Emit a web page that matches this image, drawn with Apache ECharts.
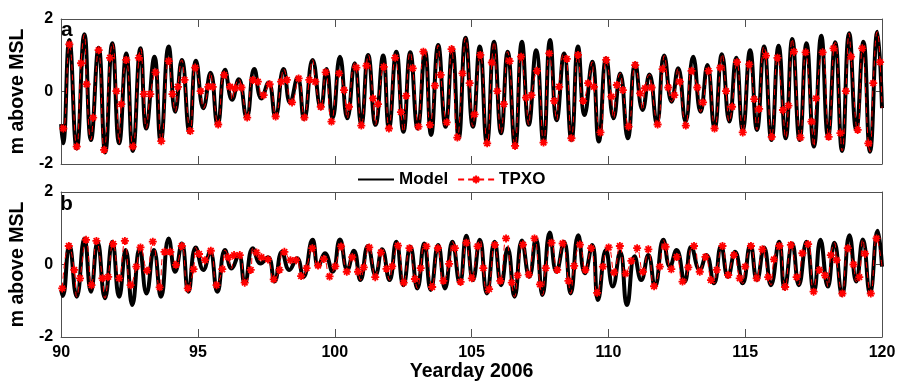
<!DOCTYPE html>
<html><head><meta charset="utf-8">
<script src="https://cdn.jsdelivr.net/npm/echarts@6/dist/echarts.min.js"></script>
<style>html,body{margin:0;padding:0;background:#fff}#c{width:900px;height:385px}</style>
</head><body><div id="c"></div>
<script>
// ---- data ----
const xTicks = [90, 95, 100, 105, 110, 115, 120];
const yTicks = [-2, 0, 2];
const seriesNames = ['Model', 'TPXO'];
const panelLabels = ['a', 'b'];

// Panel a: model high/low water extrema
const modelA_t = [90.00,90.07,90.30,90.57,90.85,91.09,91.37,91.61,91.87,92.12,92.38,92.62,92.90,93.11,93.41,93.64,93.93,94.17,94.41,94.69,94.93,95.20,95.46,95.72,95.99,96.25,96.49,96.78,97.06,97.32,97.58,97.83,98.13,98.37,98.64,98.88,99.19,99.49,99.70,99.92,100.19,100.46,100.73,100.97,101.22,101.49,101.77,101.98,102.25,102.51,102.76,103.03,103.30,103.52,103.78,104.05,104.30,104.53,104.78,105.05,105.30,105.56,105.82,106.08,106.32,106.59,106.84,107.09,107.36,107.63,107.87,108.11,108.38,108.65,108.89,109.13,109.41,109.65,109.92,110.19,110.43,110.71,110.98,111.25,111.50,111.77,112.04,112.31,112.55,112.82,113.10,113.37,113.62,113.88,114.15,114.42,114.67,114.91,115.18,115.43,115.69,115.96,116.22,116.48,116.72,116.99,117.24,117.51,117.78,118.03,118.29,118.54,118.80,119.06,119.32,119.56,119.83,120.00];
const modelA_v = [-0.90,-1.43,1.42,-1.57,1.58,-1.34,1.21,-1.68,1.33,-1.43,1.05,-1.64,1.19,-1.02,0.96,-1.38,1.24,-0.56,0.87,-1.12,0.85,-0.46,0.52,-0.92,0.60,-0.23,0.34,-0.71,0.62,-0.19,0.25,-0.69,0.62,-0.31,0.38,-0.76,0.87,-0.46,0.62,-0.74,0.96,-0.74,0.78,-0.92,1.01,-0.92,0.99,-1.02,1.10,-1.11,1.08,-1.02,1.10,-1.20,1.28,-0.97,1.19,-1.29,1.48,-0.97,1.24,-1.43,1.37,-1.15,1.10,-1.52,1.37,-0.92,1.14,-1.43,1.42,-0.79,1.05,-1.34,1.24,-0.65,0.82,-1.38,0.92,-0.74,0.50,-1.29,0.78,-0.51,0.47,-0.88,0.99,-0.28,0.64,-0.83,0.96,-0.56,0.73,-1.02,1.03,-0.83,0.93,-1.06,1.14,-1.06,1.24,-1.34,1.26,-1.29,1.45,-1.34,1.33,-1.52,1.54,-1.25,1.36,-1.64,1.61,-1.06,1.37,-1.66,1.65,-0.46];

// Panel a: TPXO marker samples
const tpxoA_t = [90.08,90.30,90.57,90.73,90.93,91.17,91.37,91.57,91.79,92.02,92.20,92.38,92.62,92.84,93.02,93.26,93.45,93.66,93.93,94.07,94.27,94.51,94.72,94.90,95.10,95.38,95.54,95.74,95.96,96.17,96.35,96.59,96.80,97.01,97.19,97.40,97.62,97.84,98.04,98.25,98.44,98.68,98.89,99.07,99.29,99.49,99.67,99.88,100.16,100.34,100.52,100.79,100.97,101.16,101.40,101.58,101.79,101.98,102.21,102.42,102.61,102.85,103.06,103.24,103.48,103.66,103.87,104.09,104.27,104.48,104.67,104.93,105.11,105.32,105.57,105.74,105.94,106.18,106.39,106.59,106.81,106.99,107.19,107.39,107.63,107.84,108.02,108.20,108.48,108.65,108.89,109.08,109.26,109.47,109.71,109.92,110.11,110.31,110.53,110.74,110.98,111.16,111.34,111.58,111.80,111.98,112.19,112.41,112.61,112.83,113.04,113.25,113.46,113.66,113.88,114.09,114.30,114.52,114.70,114.91,115.15,115.33,115.51,115.76,115.97,116.18,116.38,116.58,116.78,117.02,117.21,117.42,117.59,117.83,118.05,118.23,118.48,118.68,118.87,119.11,119.28,119.50,119.68,119.93];
const tpxoA_v = [-1.02,1.30,-1.52,0.78,0.20,-0.72,1.14,-1.61,0.93,0.01,-0.35,0.87,-1.52,0.93,-0.07,-0.07,0.53,-1.37,0.84,-0.07,0.13,0.32,-1.09,0.66,0.01,0.13,0.13,-0.91,0.46,0.13,0.09,0.11,-0.72,0.32,0.27,-0.10,0.20,-0.69,0.27,0.32,-0.30,0.36,-0.72,0.32,0.27,-0.42,0.53,-0.83,0.50,0.04,-0.42,0.66,-0.94,0.71,-0.19,-0.35,0.68,-1.02,0.93,-0.57,-0.12,0.64,-0.97,1.10,-0.92,0.16,0.46,-0.85,1.17,-1.27,0.50,0.23,-0.63,1.01,-1.43,0.80,0.01,-0.35,0.84,-1.50,0.96,-0.17,-0.10,0.57,-1.41,1.05,-0.26,0.13,0.90,-1.29,1.01,-0.26,0.23,0.13,-1.13,0.87,-0.14,0.18,0.04,-0.97,0.73,-0.05,0.09,0.11,-0.91,0.62,0.11,-0.10,0.27,-0.94,0.57,0.11,-0.30,0.57,-1.02,0.66,0.01,-0.42,0.81,-1.13,0.75,-0.21,-0.48,0.99,-1.25,0.93,-0.51,-0.39,1.10,-1.27,1.08,-0.83,-0.19,1.08,-1.25,1.19,-1.15,0.01,0.96,-1.06,1.19,-1.43,0.23,0.81];

// Panel b: model extrema
const modelB_t = [90.00,90.06,90.30,90.57,90.85,91.09,91.33,91.60,91.87,92.12,92.36,92.60,92.87,93.12,93.39,93.65,93.93,94.17,94.41,94.65,94.92,95.20,95.44,95.71,95.99,96.23,96.49,96.71,97.01,97.29,97.56,97.80,98.07,98.34,98.62,98.85,99.19,99.40,99.64,99.92,100.19,100.46,100.70,100.94,101.21,101.49,101.73,102.00,102.25,102.51,102.76,103.02,103.27,103.51,103.78,104.03,104.30,104.57,104.81,105.05,105.30,105.56,105.84,106.08,106.32,106.57,106.84,107.11,107.35,107.59,107.86,108.10,108.38,108.62,108.90,109.14,109.41,109.62,109.91,110.16,110.43,110.68,110.96,111.20,111.46,111.70,112.01,112.25,112.49,112.79,113.03,113.34,113.58,113.86,114.12,114.37,114.63,114.91,115.19,115.43,115.69,115.94,116.24,116.44,116.72,116.96,117.24,117.51,117.75,118.02,118.26,118.54,118.81,119.06,119.30,119.56,119.84,120.00];
const modelB_v = [-0.70,-0.87,0.54,-0.89,0.72,-0.75,0.63,-0.93,0.63,-0.89,0.40,-1.12,0.45,-0.80,0.40,-0.89,0.72,-0.20,0.58,-0.75,0.47,-0.15,0.35,-0.75,0.40,-0.11,0.26,-0.52,0.45,0.03,0.20,-0.47,0.35,-0.15,0.17,-0.35,0.68,-0.06,0.31,-0.20,0.69,-0.15,0.38,-0.43,0.51,-0.29,0.42,-0.43,0.63,-0.57,0.49,-0.66,0.58,-0.70,0.54,-0.66,0.63,-0.52,0.79,-0.43,0.68,-0.80,0.63,-0.57,0.45,-0.89,0.66,-0.34,0.72,-0.84,0.88,-0.20,0.63,-0.80,0.81,-0.24,0.54,-0.98,0.40,-0.61,0.35,-1.12,0.23,-0.43,0.26,-0.61,0.68,-0.06,0.40,-0.47,0.49,-0.15,0.26,-0.52,0.51,-0.34,0.35,-0.52,0.54,-0.43,0.47,-0.57,0.63,-0.66,0.58,-0.57,0.63,-0.75,0.68,-0.61,0.60,-0.84,0.81,-0.47,0.69,-0.80,0.93,-0.06];

// Panel b: TPXO marker samples
const tpxoB_t = [90.04,90.28,90.48,90.69,90.91,91.11,91.29,91.51,91.72,91.90,92.12,92.33,92.54,92.75,92.90,93.14,93.35,93.60,93.78,93.99,94.20,94.41,94.63,94.84,95.04,95.26,95.47,95.68,95.89,96.11,96.32,96.53,96.71,96.93,97.14,97.32,97.56,97.77,97.98,98.16,98.38,98.59,98.77,
  98.97,99.18,99.39,99.60,99.81,100.02,100.23,100.44,100.64,100.85,101.06,101.26,101.48,101.69,101.89,102.10,102.31,102.52,102.73,102.93,103.14,103.35,103.56,103.77,103.97,104.18,104.39,104.60,104.81,105.01,105.22,105.43,105.64,105.85,106.05,106.26,106.47,106.68,106.88,107.09,107.30,107.50,107.71,107.92,108.13,108.33,108.54,108.75,108.96,109.16,109.37,
  109.59,109.80,110.01,110.21,110.42,110.63,110.84,111.05,111.26,111.46,111.67,111.88,112.09,112.30,112.50,112.71,112.92,113.13,113.34,113.55,113.75,113.96,114.17,114.38,114.59,114.80,115.00,115.21,115.42,115.63,115.84,116.05,116.25,116.46,116.67,116.88,117.09,117.30,117.50,117.71,117.92,118.13,118.34,118.55,118.75,118.96,119.17,119.38,119.59,119.80];
const tpxoB_v = [-0.66,0.51,-0.15,-0.38,0.68,-0.57,0.65,-0.38,-0.34,0.57,-0.38,0.65,-0.57,-0.06,0.47,-0.17,0.63,-0.63,0.35,0.35,-0.01,0.51,-0.66,-0.13,0.29,0.12,0.38,-0.57,-0.13,0.20,0.26,0.26,-0.50,-0.15,0.33,0.20,0.14,-0.41,-0.15,0.35,0.12,0.12,-0.32,
  -0.10,0.45,-0.03,0.15,-0.33,-0.05,0.50,-0.20,0.20,-0.20,-0.08,0.47,-0.35,0.33,-0.12,-0.05,0.52,-0.50,0.45,-0.40,-0.10,0.50,-0.62,0.45,-0.45,0.02,0.45,-0.48,0.60,-0.38,0.50,-0.10,-0.68,0.54,-0.45,0.72,-0.50,-0.30,0.55,-0.28,0.72,-0.55,-0.10,0.60,-0.15,0.58,-0.45,-0.04,0.55,-0.15,0.45,
  -0.78,-0.06,0.47,-0.22,0.51,-0.25,0.10,0.45,-0.20,0.42,-0.60,-0.06,0.49,-0.13,0.21,-0.47,-0.08,0.51,-0.20,0.21,-0.43,-0.15,0.51,-0.29,0.26,-0.38,-0.06,0.51,-0.38,0.42,-0.35,0.14,0.51,-0.62,0.54,-0.35,0.31,0.56,-0.75,-0.15,-0.30,0.26,0.12,-0.80,0.45,0.00,-0.35,0.30,-0.80,0.72];

// ---- build chart ----
const FONT = 'Liberation Sans, Arial, sans-serif';
const FRAME = '#505050';
function pairs(ts, vs) { const n = Math.min(ts.length, vs.length); const o = []; for (let i = 0; i < n; i++) o.push([ts[i], vs[i]]); return o; }
// TPXO thin line: passes through its marker samples; between markers it follows the turning points seen under the model curve
function tpxoLine(mt, mv, et, ev, gap) {
  const pts = pairs(mt, mv).map(p => ({ value: p }));
  pairs(et, ev).forEach(p => {
    if (!mt.some(m => Math.abs(m - p[0]) < gap)) pts.push({ value: p, symbol: 'none' });
  });
  pts.sort((a, b) => a.value[0] - b.value[0]);
  return pts;
}
const ASTER = 'path://M0,-6L0,6M-6,0L6,0M-4.2,-4.2L4.2,4.2M-4.2,4.2L4.2,-4.2';

function xAxisFor(grid, pos, labels) {
  return {
    gridIndex: grid, type: 'value', position: pos, min: xTicks[0], max: xTicks[xTicks.length-1], interval: 5,
    axisLine: { show: true, onZero: false, lineStyle: { color: FRAME, width: 1 } },
    axisTick: { show: true, inside: true, length: 8, lineStyle: { color: FRAME } },
    axisLabel: { show: labels, margin: 8, color: '#000', fontFamily: FONT, fontWeight: 'bold', fontSize: 16 },
    splitLine: { show: false },
    name: labels ? 'Yearday 2006' : '', nameLocation: 'middle', nameGap: 25,
    nameTextStyle: { color: '#000', fontFamily: FONT, fontWeight: 'bold', fontSize: 19.5 }
  };
}
function yAxisFor(grid, pos, labels) {
  return {
    gridIndex: grid, type: 'value', position: pos, min: yTicks[0], max: yTicks[yTicks.length-1], interval: 2,
    axisLine: { show: true, onZero: false, lineStyle: { color: FRAME, width: 1 } },
    axisTick: { show: true, inside: true, length: 6, lineStyle: { color: FRAME } },
    axisLabel: { show: labels, margin: 8, color: '#000', fontFamily: FONT, fontWeight: 'bold', fontSize: 16 },
    splitLine: { show: false },
    name: labels ? 'm above MSL' : '', nameLocation: 'middle', nameGap: 26,
    nameTextStyle: { color: '#000', fontFamily: FONT, fontWeight: 'bold', fontSize: 19.5 }
  };
}
function modelSeries(grid, data) {
  return { name: seriesNames[0], type: 'line', xAxisIndex: grid*2, yAxisIndex: grid*2, data: data,
    smooth: 0.5, symbol: 'none', z: 2, clip: true,
    lineStyle: { color: '#000', width: 4 }, itemStyle: { color: '#000' } };
}
function tpxoSeries(grid, data) {
  return { name: seriesNames[1], type: 'line', xAxisIndex: grid*2, yAxisIndex: grid*2, data: data,
    smooth: 0.5, symbol: ASTER, symbolSize: 8, showSymbol: true, z: 3, clip: true,
    lineStyle: { color: '#ff0000', width: 1, type: [6, 4] },
    itemStyle: { color: '#ff0000', borderColor: '#ff0000', borderWidth: 1.8 } };
}

const chart = echarts.init(document.getElementById('c'), null, { renderer: 'canvas' });
chart.setOption({
  animation: false,
  backgroundColor: '#fff',
  grid: [
    { left: 55, top: 19, width: 827, height: 145 },
    { left: 55, top: 192, width: 827, height: 145 }
  ],
  xAxis: [xAxisFor(0, 'bottom', false), xAxisFor(0, 'top', false), xAxisFor(1, 'bottom', true), xAxisFor(1, 'top', false)],
  yAxis: [yAxisFor(0, 'left', true), yAxisFor(0, 'right', false), yAxisFor(1, 'left', true), yAxisFor(1, 'right', false)],
  legend: {
    data: [
      { name: seriesNames[0], itemStyle: { color: 'rgba(0,0,0,0)', borderColor: 'rgba(0,0,0,0)', borderWidth: 0 } },
      { name: seriesNames[1] }
    ],
    left: 357, top: 171, padding: 0, itemWidth: 36, itemHeight: 10, itemGap: 9,
    textStyle: { color: '#000', fontFamily: FONT, fontWeight: 'bold', fontSize: 17 }
  },
  graphic: [
    { type: 'text', x: 61, y: 30.5, style: { text: panelLabels[0], fill: '#000', font: 'bold 21px ' + FONT, verticalAlign: 'middle' } },
    { type: 'text', x: 60, y: 204.5, style: { text: panelLabels[1], fill: '#000', font: 'bold 21px ' + FONT, verticalAlign: 'middle' } }
  ],
  series: [
    modelSeries(0, pairs(modelA_t, modelA_v)),
    tpxoSeries(0, tpxoLine(tpxoA_t, tpxoA_v, modelA_t, modelA_v, 0.06)),
    modelSeries(1, pairs(modelB_t, modelB_v)),
    tpxoSeries(1, tpxoLine(tpxoB_t, tpxoB_v, modelB_t, modelB_v, 0.07))
  ]
});
</script>
</body></html>
